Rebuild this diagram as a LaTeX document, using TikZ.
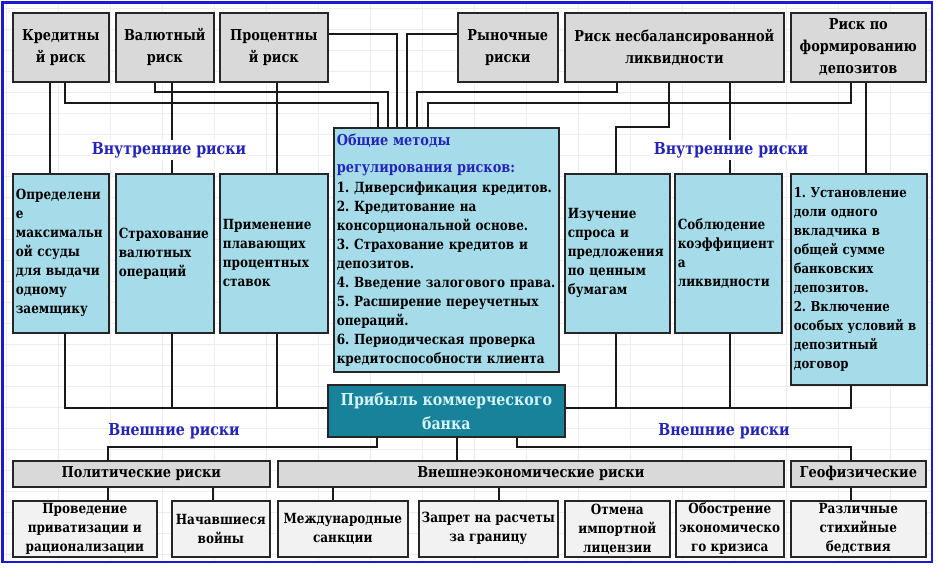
\documentclass[tikz,border=0pt]{standalone}
\usepackage{fontspec}
\setmainfont{DejaVu Serif}[FakeStretch=0.86]
\newfontfamily\boxfont{DejaVu Serif}[FakeStretch=0.86]
\usepackage{tikz}
\frenchspacing

\definecolor{boxgray}{HTML}{D9D9D9}
\definecolor{boxblue}{HTML}{A6DCE9}
\definecolor{boxteal}{HTML}{17829A}
\definecolor{tealtext}{HTML}{D4F4FA}
\definecolor{boxlight}{HTML}{F2F2F2}
\definecolor{labblue}{HTML}{2424B8}
\definecolor{frameblue}{HTML}{1A1AD0}

\tikzset{
  box/.style={draw=black!85, line width=1.6pt, anchor=north west, inner sep=0pt,
    font=\boxfont\bfseries},
  riskbox/.style={box, fill=boxgray, align=center,
    font=\boxfont\bfseries\fontsize{15}{22}\selectfont},
  methbox/.style={box, fill=boxblue, align=left, inner xsep=3pt,
    font=\boxfont\bfseries\fontsize{14}{19}\selectfont},
  groupbox/.style={box, fill=boxgray, align=center,
    font=\boxfont\bfseries\fontsize{15}{20}\selectfont},
  eventbox/.style={box, fill=boxlight, align=center,
    font=\boxfont\bfseries\fontsize{14}{19}\selectfont},
  sidelabel/.style={fill=white, inner sep=2pt, text=labblue,
    font=\boxfont\bfseries\fontsize{16.5}{20}\selectfont},
  wire/.style={line width=1.3pt, black!90}
}

\begin{document}
\begin{tikzpicture}[x=1pt,y=-1pt]

% Canvas and frame
\useasboundingbox (0,0) rectangle (938,569);
\fill[white] (0,0) rectangle (938,569);
\foreach \gx in {6,58,...,930} \draw[black!7,line width=0.6pt] (\gx,4) -- (\gx,561);
\foreach \gy in {8,29,...,560} \draw[black!7,line width=0.6pt] (4,\gy) -- (931,\gy);
\draw[frameblue,line width=2.6pt] (2.5,2.5) rectangle (932,562);

% Top row: kinds of risk
\node[riskbox, minimum width=96, minimum height=69] (kred) at (12,12) {Кредитны\\й риск};
\node[riskbox, minimum width=98, minimum height=69] (valut) at (115,12) {Валютный\\риск};
\node[riskbox, minimum width=108, minimum height=69] (proc) at (219,12) {Процентны\\й риск};
\node[riskbox, minimum width=100, minimum height=69] (ryn) at (457,12) {Рыночные\\риски};
\node[riskbox, minimum width=219, minimum height=69] (liq) at (564,12) {Риск несбалансированной\\ликвидности};
\node[riskbox, minimum width=135, minimum height=69] (dep) at (790,12) {Риск по\\формированию\\депозитов};

% Middle row: methods
\node[methbox, minimum height=159, text width=90] (opr) at (12,173)
  {Определени\\е\\максимальн\\ой ссуды\\для выдачи\\одному\\заемщику};
\node[methbox, minimum height=159, text width=92] (strah) at (115,173)
  {Страхование\\валютных\\операций};
\node[methbox, minimum height=159, text width=102] (prim) at (219,173)
  {Применение\\плавающих\\процентных\\ставок};
\node[methbox, minimum height=244, text width=219, font=\boxfont\bfseries\fontsize{14}{19}\selectfont] (meth) at (333,127)
  {{\color{labblue}\fontsize{15}{19}\selectfont Общие методы\\[8pt]регулирования рисков:}\\[1pt]
   1. Диверсификация кредитов.\\2. Кредитование на\\консорциональной основе.\\
   3. Страхование кредитов и\\депозитов.\\4. Введение залогового права.\\
   5. Расширение переучетных\\операций.\\6. Периодическая проверка\\кредитоспособности клиента};
\node[methbox, minimum height=159, text width=99] (izuch) at (564,173)
  {Изучение\\спроса и\\предложения\\по ценным\\бумагам};
\node[methbox, minimum height=159, text width=101] (sobl) at (674,173)
  {Соблюдение\\коэффициент\\а\\ликвидности};
\node[methbox, minimum height=211, text width=130, font=\boxfont\bfseries\fontsize{13.6}{19}\selectfont] (ust) at (790,173)
  {1. Установление\\доли одного\\вкладчика в\\общей сумме\\банковских\\депозитов.\\2. Включение\\особых условий в\\депозитный\\договор};

% Profit
\node[box, fill=boxteal, text=tealtext, align=center, minimum width=237, minimum height=52,
  font=\boxfont\bfseries\fontsize{16.5}{24}\selectfont] (prib) at (327,384) {Прибыль коммерческого\\банка};

% Groups of external risk
\node[groupbox, minimum width=257, minimum height=26] (pol) at (12,460) {Политические риски};
\node[groupbox, minimum width=506, minimum height=26] (vnesh) at (277,460) {Внешнеэкономические риски};
\node[groupbox, minimum width=135, minimum height=26] (geo) at (790,460) {Геофизические};

% Bottom row: events
\node[eventbox, minimum width=144, minimum height=56] (priv) at (12,500) {Проведение\\приватизации и\\рационализации};
\node[eventbox, minimum width=98, minimum height=56] (voin) at (171,500) {Начавшиеся\\войны};
\node[eventbox, minimum width=130, minimum height=56] (sank) at (277,500) {Международные\\санкции};
\node[eventbox, minimum width=139, minimum height=56] (zapr) at (418,500) {Запрет на расчеты\\за границу};
\node[eventbox, minimum width=105, minimum height=56] (otm) at (564,500) {Отмена\\импортной\\лицензии};
\node[eventbox, minimum width=108, minimum height=56] (obostr) at (675,500) {Обострение\\экономическо\\го кризиса};
\node[eventbox, minimum width=135, minimum height=56] (bed) at (790,500) {Различные\\стихийные\\бедствия};

% Wires into the common methods
\draw[wire] (65,0 |- kred.south) -- (65,103) -- (378,103) -- (378,0 |- meth.north);
\draw[wire] (155,0 |- valut.south) -- (155,92) -- (388,92) -- (388,0 |- meth.north);
\draw[wire] (proc.east |- 0,34) -- (397,34) -- (397,0 |- meth.north);
\draw[wire] (ryn.west |- 0,34) -- (407,34) -- (407,0 |- meth.north);
\draw[wire] (617,0 |- liq.south) -- (617,92) -- (417,92) -- (417,0 |- meth.north);
\draw[wire] (851,0 |- dep.south) -- (851,103) -- (428,103) -- (428,0 |- meth.north);

% Wires from risks to methods
\draw[wire] (50,0 |- kred.south) -- (50,0 |- opr.north);
\draw[wire] (172,0 |- valut.south) -- (172,0 |- strah.north);
\draw[wire] (277,0 |- proc.south) -- (277,0 |- prim.north);
\draw[wire] (669,0 |- liq.south) -- (669,127) -- (616,127) -- (616,0 |- izuch.north);
\draw[wire] (730,0 |- liq.south) -- (730,0 |- sobl.north);
\draw[wire] (866,0 |- dep.south) -- (866,0 |- ust.north);

% Wires from methods to profit
\draw[wire] (65,0 |- opr.south) -- (65,408) -- (prib.west |- 0,408);
\draw[wire] (172,0 |- strah.south) -- (172,408);
\draw[wire] (277,0 |- prim.south) -- (277,408);
\draw[wire] (851,0 |- ust.south) -- (851,408) -- (prib.east |- 0,408);
\draw[wire] (616,0 |- izuch.south) -- (616,408);
\draw[wire] (730,0 |- sobl.south) -- (730,408);

% Wires from profit to external groups
\draw[wire] (377,0 |- prib.south) -- (377,447) -- (108,447) -- (108,0 |- pol.north);
\draw[wire] (457,0 |- prib.south) -- (457,0 |- vnesh.north);
\draw[wire] (517,0 |- prib.south) -- (517,447) -- (851,447) -- (851,0 |- geo.north);

% Wires from groups to events
\draw[wire] (108,0 |- pol.south) -- (108,0 |- priv.north);
\draw[wire] (213,0 |- pol.south) -- (213,0 |- voin.north);
\draw[wire] (333,0 |- vnesh.south) -- (333,0 |- sank.north);
\draw[wire] (499,0 |- vnesh.south) -- (499,0 |- zapr.north);
\draw[wire] (851,0 |- geo.south) -- (851,0 |- bed.north);

% Labels
\node[sidelabel] (innerL) at (169,150) {Внутренние риски};
\node[sidelabel] (innerR) at (731,150) {Внутренние риски};
\node[sidelabel, fill=none] (outerL) at (174,431) {Внешние риски};
\node[sidelabel, fill=none] (outerR) at (724,431) {Внешние риски};

\end{tikzpicture}
\end{document}
